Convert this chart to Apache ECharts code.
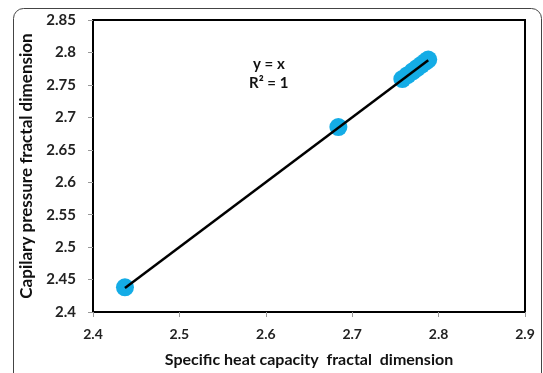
<!DOCTYPE html>
<html>
<head>
<meta charset="utf-8">
<script src="https://cdn.jsdelivr.net/npm/echarts@6/dist/echarts.min.js"></script>
<style>
html, body { margin: 0; padding: 0; background: #fff; }
#chart { width: 543px; height: 373px; }
</style>
</head>
<body>
<div id="chart"></div>
<script>
// fractal dimensions
var heatDim = [2.437, 2.684, 2.758, 2.764, 2.770, 2.775, 2.780, 2.785, 2.788];
var pressureDim = [2.438, 2.685, 2.759, 2.765, 2.771, 2.776, 2.781, 2.786, 2.789];
// fitted line y = x
var fitX = [2.437, 2.788];

var font = 'Lato, "Open Sans", sans-serif';

(function() {
	var points = [];
	for (var i = 0; i < heatDim.length; i++) {
		points.push([heatDim[i], pressureDim[i]]);
	}
	var line = [];
	for (var j = 0; j < fitX.length; j++) {
		line.push([fitX[j], fitX[j]]);
	}

	var option = {
		animation : false,
		grid : {
			left : 93,
			right : 18,
			top : 20,
			bottom : 61,
			show : true,
			borderColor : '#000',
			borderWidth : 2
		},
		xAxis : {
			type : 'value',
			min : 2.4,
			max : 2.9,
			interval : 0.1,
			name : 'Specific heat capacity  fractal  dimension',
			nameLocation : 'middle',
			nameGap : 40,
			nameTextStyle : { fontFamily : font, fontWeight : 'bold', fontSize : 16, color : '#111' },
			axisLine : { show : true, lineStyle : { color : '#000', width : 2 } },
			axisTick : { show : true, length : 5, lineStyle : { color : '#999' } },
			axisLabel : { fontFamily : font, fontWeight : 'bold', fontSize : 14, color : '#222', margin : 15 },
			splitLine : { show : false }
		},
		yAxis : {
			type : 'value',
			min : 2.4,
			max : 2.85,
			interval : 0.05,
			name : 'Capilary pressure fractal dimension',
			nameLocation : 'middle',
			nameGap : 53,
			nameTextStyle : { fontFamily : font, fontWeight : 'bold', fontSize : 17, color : '#111' },
			axisLine : { show : true, lineStyle : { color : '#000', width : 2 } },
			axisTick : { show : true, length : 5, lineStyle : { color : '#999' } },
			axisLabel : { fontFamily : font, fontWeight : 'bold', fontSize : 15, color : '#222', margin : 17 },
			splitLine : { show : false }
		},
		series : [ {
			type : 'scatter',
			data : points,
			symbolSize : 18,
			itemStyle : { color : '#14ace6', opacity : 1 },
			z : 2
		}, {
			type : 'line',
			data : line,
			symbol : 'none',
			lineStyle : { color : '#000', width : 2.5 },
			z : 3
		} ],
		graphic : [ {
			type : 'rect',
			shape : { x : 13.5, y : 8.5, width : 528, height : 380, r : 10 },
			style : { fill : 'none', stroke : '#444', lineWidth : 1 },
			silent : true
		}, {
			type : 'text',
			left : 253,
			top : 57,
			style : { text : 'y = x', font : 'bold 15px ' + font, fill : '#111' }
		}, {
			type : 'text',
			left : 249,
			top : 76,
			style : { text : 'R² = 1', font : 'bold 15px ' + font, fill : '#111' }
		} ]
	};

	var myChart = echarts.init(document.getElementById('chart'));
	myChart.setOption(option, true);
})();
</script>
</body>
</html>
